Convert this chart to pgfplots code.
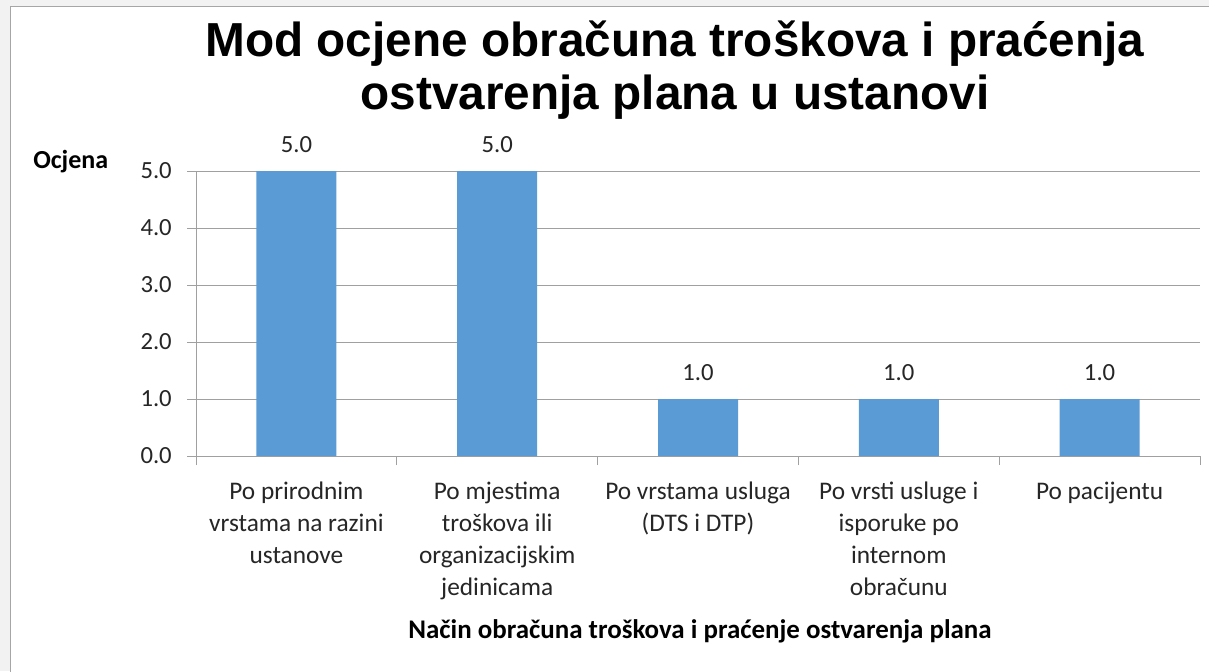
\documentclass[border=0pt]{standalone}
\usepackage{pgfplots}
\pgfplotsset{compat=1.18}
\usepackage{fontspec}
\setmainfont{Carlito}
\newfontfamily\titlefont{Liberation Sans}
\definecolor{barblue}{HTML}{5B9BD5}
\definecolor{gridgray}{HTML}{A0A0A0}
\definecolor{txt}{HTML}{262626}
\definecolor{bggray}{HTML}{F2F2F2}
\begin{document}
\begin{tikzpicture}[x=0.75pt,y=0.75pt]
\useasboundingbox (0,0) rectangle (1209,671);
\fill[bggray] (0,0) rectangle (1209,671);
\fill[white] (10,0) rectangle (1209,664);
\draw[gray!70, line width=0.75pt] (10,-5) -- (10,664) -- (1215,664);
% title
\node[anchor=base, inner sep=0, font={\titlefont\bfseries\fontsize{35.8}{40}\selectfont}] at (675,614) {Mod ocjene obračuna troškova i praćenja};
\node[anchor=base, inner sep=0, font={\titlefont\bfseries\fontsize{35.8}{40}\selectfont}] at (675,561) {ostvarenja plana u ustanovi};
% axis titles
\node[anchor=base west, inner sep=0, font={\bfseries\fontsize{19.5}{22}\selectfont}] at (33,502) {Ocjena};
\node[anchor=base, inner sep=0, font={\bfseries\fontsize{20.2}{22}\selectfont}] at (700,33) {Način obračuna troškova i praćenje ostvarenja plana};
\begin{axis}[
  at={(147pt,161.25pt)}, anchor=south west,
  scale only axis,
  width=753pt, height=213.75pt,
  xmin=0, xmax=5, ymin=0, ymax=5,
  /pgf/number format/assume math mode=true,
  axis lines*=left,
  axis line style={draw=gridgray, line width=0.75pt},
  ymajorgrids,
  grid style={draw=gridgray, line width=0.75pt},
  ytick={0,1,2,3,4,5},
  yticklabel={\pgfmathprintnumber[fixed,fixed zerofill,precision=1]{\tick}},
  yticklabel style={anchor=east, inner sep=0, xshift=-11.25pt, text=txt, font={\fontsize{18.5}{22}\selectfont}},
  xtick={0,1,2,3,4,5},
  xticklabels={},
  tick align=outside,
  major tick length=6.75pt,
  tick style={draw=gridgray, line width=0.75pt},
  extra x ticks={0.5,1.5,2.5,3.5,4.5},
  extra x tick labels={
    {Po prirodnim\\vrstama na razini\\ustanove},
    {Po mjestima\\troškova ili\\organizacijskim\\jedinicama},
    {Po vrstama usluga\\(DTS i DTP)},
    {Po vrsti usluge i\\isporuke po\\internom\\obračunu},
    {Po pacijentu}},
  extra x tick style={
    major tick length=0pt,
    xticklabel style={anchor=north, align=center, inner sep=0, yshift=-19pt, text=txt, font={\fontsize{19}{24}\selectfont}}},
  clip=false,
]
\addplot[ybar, bar width=60pt, fill=barblue, draw=none,
  nodes near coords={\pgfmathprintnumber[fixed,fixed zerofill,precision=1]{\pgfplotspointmeta}},
  nodes near coords style={anchor=base, inner sep=0, yshift=14pt, text=txt, font={\fontsize{18.5}{22}\selectfont}}]
  coordinates {(0.5,5) (1.5,5) (2.5,1) (3.5,1) (4.5,1)};
\end{axis}
\end{tikzpicture}
\end{document}
